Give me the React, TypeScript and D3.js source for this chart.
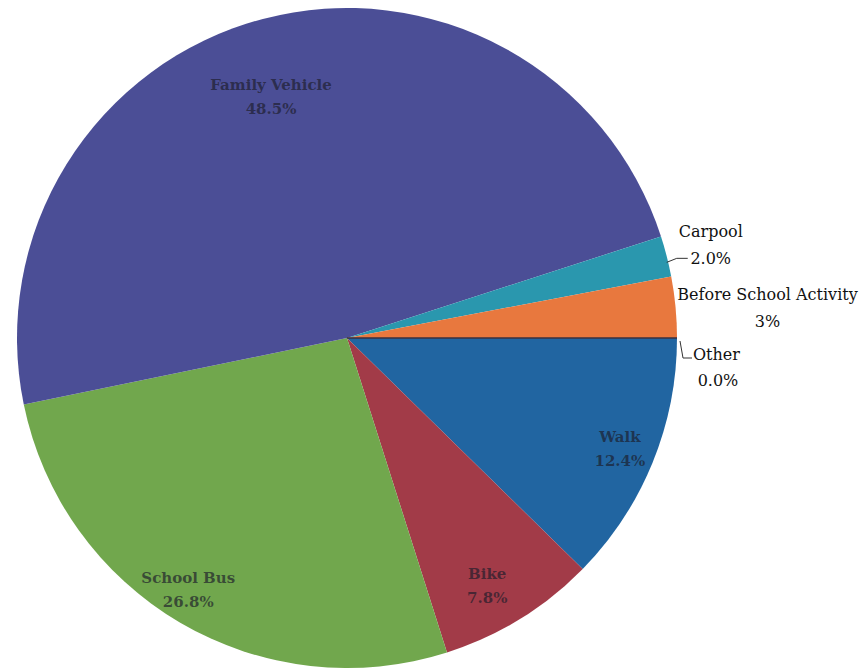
import React from "react";
import * as d3 from "d3";

const categories = ["Walk", "Bike", "School Bus", "Family Vehicle", "Carpool", "Before School Activity", "Other"];
const values = [12.4, 7.8, 26.8, 48.5, 2.0, 3, 0.0];
const valueLabels = ["12.4%", "7.8%", "26.8%", "48.5%", "2.0%", "3%", "0.0%"];
const colors = ["#2165a1", "#a23b48", "#71a74d", "#4b4e96", "#2a97ae", "#e8783e", "#3a3a4a"];
const outsideLabels = ["Carpool", "Before School Activity", "Other"];

const W = 864;
const H = 669;
const cx = 347;
const cy = 338;
const R = 330;

const labelFactor: Record<string, number> = {
  "Family Vehicle": 0.76,
};
const labelShiftX: Record<string, number> = {
  "Family Vehicle": -12,
  "School Bus": -12,
  "Bike": -12,
  "Walk": 4,
};

export default function App() {
  const data = categories.map((c, i) => ({ name: c, value: values[i], label: valueLabels[i], color: colors[i] }));
  const pie = d3
    .pie<any>()
    .sort(null)
    .value((d) => d.value)
    .startAngle(Math.PI / 2)
    .endAngle(Math.PI / 2 + 2 * Math.PI);
  const arcs = pie(data);
  const arc = d3.arc<any>().innerRadius(0).outerRadius(R);

  const polar = (a: number, r: number): [number, number] => [Math.sin(a) * r, -Math.cos(a) * r];

  const serif = "'DejaVu Serif', 'Liberation Serif', serif";

  return (
    <svg width={W} height={H} style={{ position: "absolute", left: 0, top: 0, background: "#fff" }}>
      <g transform={`translate(${cx},${cy})`}>
        {arcs.map((a, i) => (
          <path
            key={i}
            d={arc(a) || ""}
            fill={a.data.color}
            stroke={a.data.value === 0 ? "#3a3040" : "none"}
            strokeWidth={a.data.value === 0 ? 1.5 : 0}
          />
        ))}
        {arcs
          .filter((a) => !outsideLabels.includes(a.data.name))
          .map((a, i) => {
            const mid = (a.startAngle + a.endAngle) / 2;
            const f = labelFactor[a.data.name] ?? 0.88;
            const [x0, y] = polar(mid, R * f);
            const x = x0 + (labelShiftX[a.data.name] ?? 0);
            return (
              <g key={"l" + i} fontFamily={serif} fontSize={15} fontWeight="bold" fill="#1c1c2a" fillOpacity={0.68} textAnchor="middle">
                <text x={x} y={y - 6}>{a.data.name}</text>
                <text x={x} y={y + 18}>{a.data.label}</text>
              </g>
            );
          })}
        {arcs
          .filter((a) => outsideLabels.includes(a.data.name))
          .map((a, i) => {
            const mid = (a.startAngle + a.endAngle) / 2;
            const [ex, ey] = polar(mid, R);
            const name = a.data.name;
            if (name === "Carpool") {
              return (
                <g key={"o" + i} fontFamily={serif} fontSize={16} fill="#111">
                  <polyline points={`${ex},${ey + 6} ${ex + 10},${ey + 2} ${ex + 21},${ey + 2}`} fill="none" stroke="#333" strokeWidth={1} />
                  <text x={ex + 44} y={ey - 19} textAnchor="middle">{name}</text>
                  <text x={ex + 44} y={ey + 8} textAnchor="middle">{a.data.label}</text>
                </g>
              );
            }
            if (name === "Before School Activity") {
              return (
                <g key={"o" + i} fontFamily={serif} fontSize={16} fill="#111">
                  <text x={ex + 92} y={ey - 7} textAnchor="middle">{name}</text>
                  <text x={ex + 92} y={ey + 20} textAnchor="middle">{a.data.label}</text>
                </g>
              );
            }
            return (
              <g key={"o" + i} fontFamily={serif} fontSize={16} fill="#111">
                <polyline points={`${ex + 3},${ey + 3} ${ex + 6},${ey + 20} ${ex + 15},${ey + 20}`} fill="none" stroke="#333" strokeWidth={1} />
                <text x={ex + 16} y={ey + 22}>{name}</text>
                <text x={ex + 41} y={ey + 48} textAnchor="middle">{a.data.label}</text>
              </g>
            );
          })}
      </g>
    </svg>
  );
}
